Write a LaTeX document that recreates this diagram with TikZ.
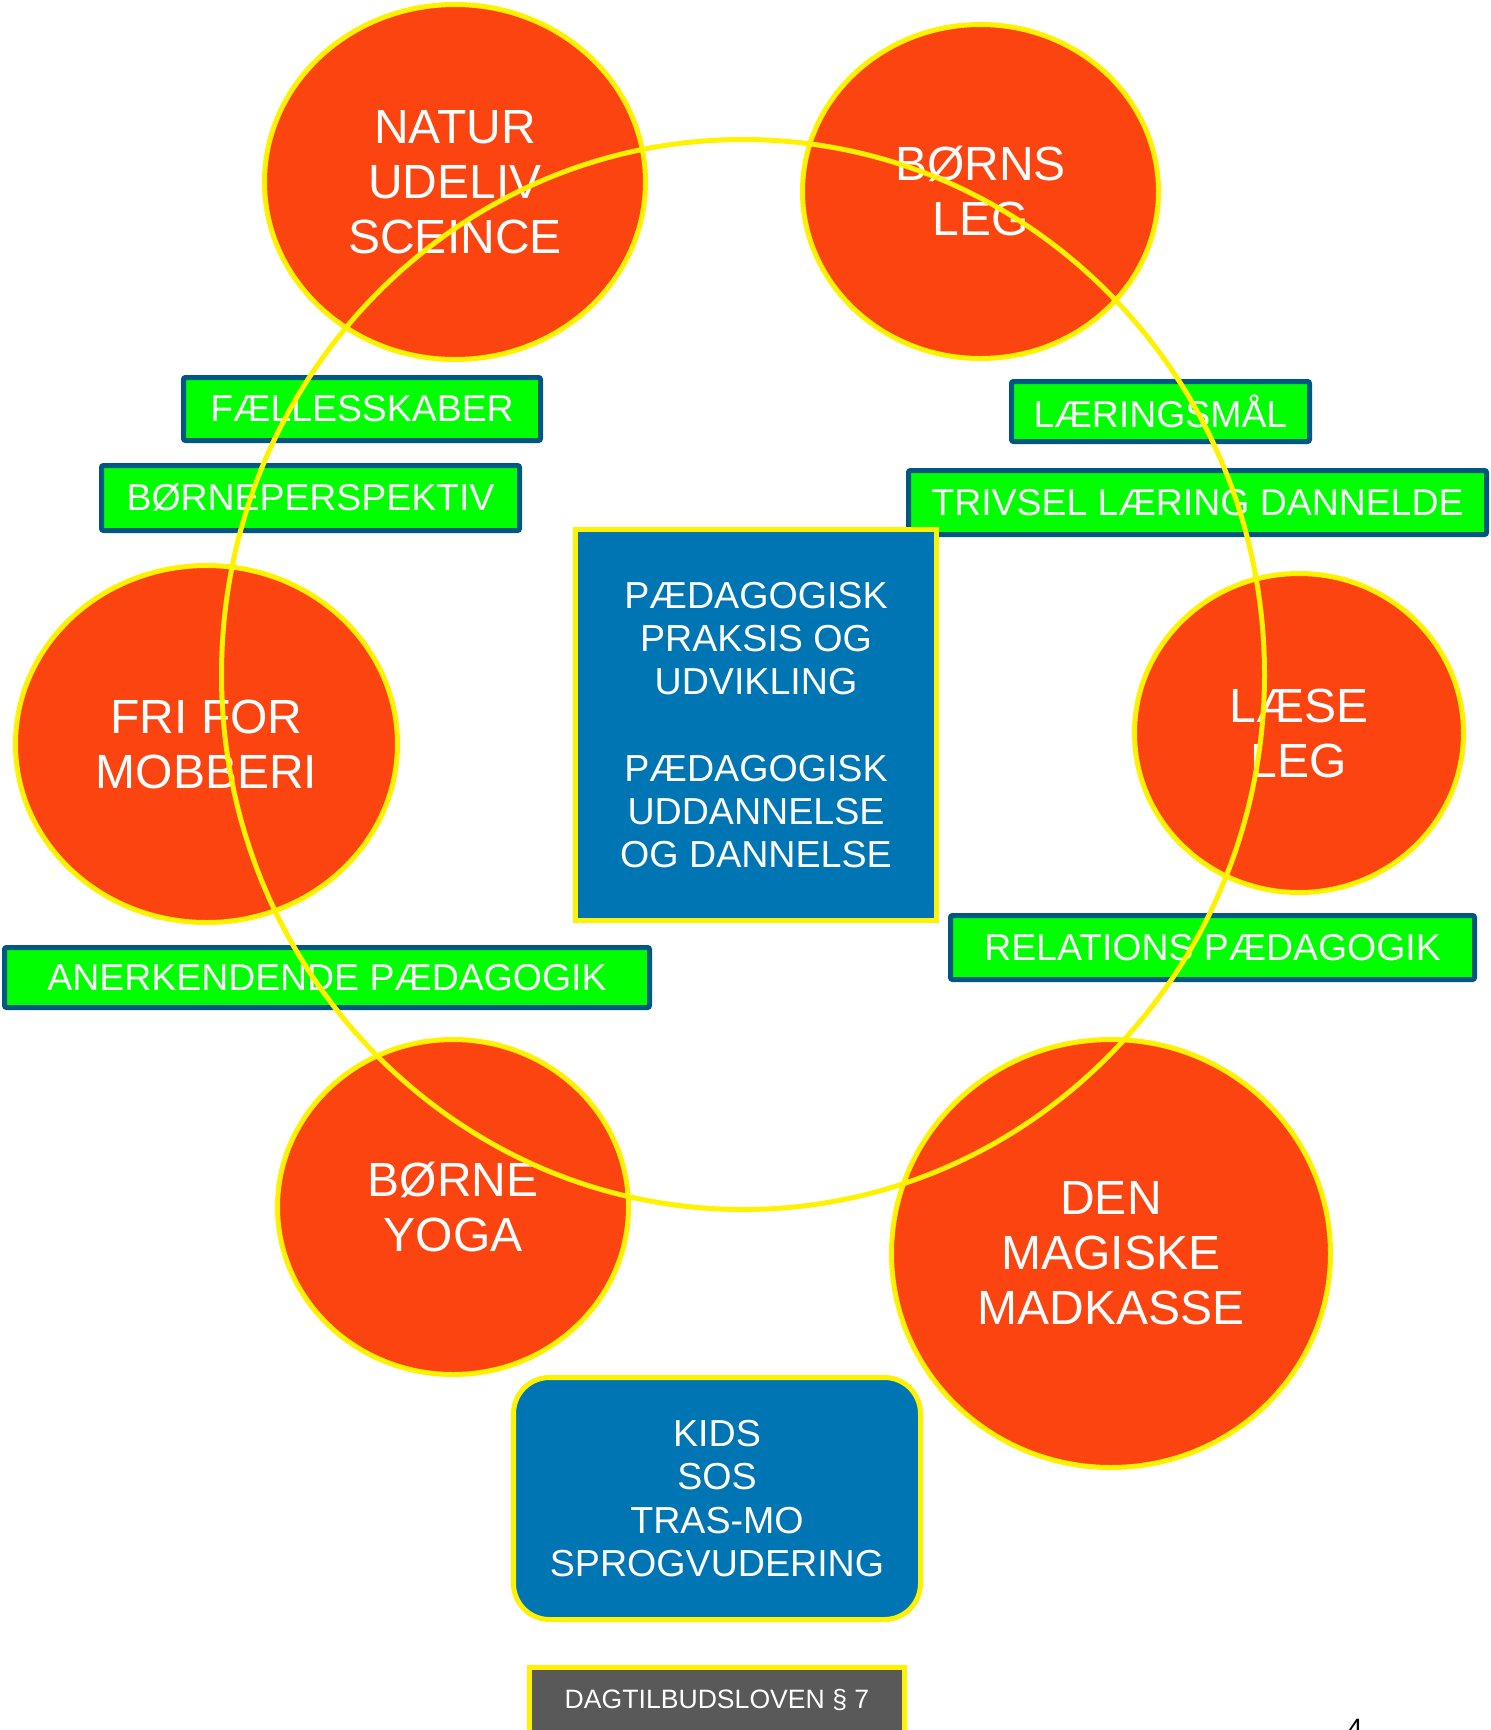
\documentclass[tikz,border=0pt]{standalone}
\usepackage{fontspec}
\setmainfont{Liberation Sans}
\usetikzlibrary{shapes.geometric}

\definecolor{circfill}{RGB}{252,68,16}
\definecolor{goalgreen}{RGB}{0,255,0}
\definecolor{goalborder}{RGB}{0,88,130}
\definecolor{hubblue}{RGB}{0,117,180}
\definecolor{lawgray}{RGB}{89,89,89}

\begin{document}
\begin{tikzpicture}[
        x=0.5pt, y=-0.5pt,
        topic/.style={ellipse, draw=yellow, line width=2.5pt, fill=circfill, text=white, align=center, inner sep=0pt, font=\fontsize{24}{27.5}\selectfont},
        goalbox/.style={rectangle, rounded corners=1pt, draw=goalborder, line width=2.5pt, fill=goalgreen, text=white, inner sep=0pt, font=\fontsize{18.7}{21}\selectfont},
        hubbox/.style={rectangle, draw=yellow, line width=2.5pt, fill=hubblue, text=white, align=center, inner sep=0pt, font=\fontsize{18.8}{21.6}\selectfont}
    ]
        \useasboundingbox (0,0) rectangle (1490,1730);

        % circles
        \node[topic, minimum width=190.5pt, minimum height=177.5pt] (natur) at (455,182) {NATUR\\UDELIV\\SCEINCE};
        \node[topic, minimum width=178pt, minimum height=167pt] (leg) at (980.5,191.5) {BØRNS\\LEG};
        \node[topic, minimum width=191pt, minimum height=178.5pt] (mobberi) at (206.5,744) {FRI FOR\\MOBBERI};
        \node[topic, minimum width=164.5pt, minimum height=159.5pt] (laese) at (1299,733) {LÆSE\\LEG};
        \node[topic, minimum width=175.5pt, minimum height=167.5pt] (yoga) at (453,1207) {BØRNE\\YOGA};
        \node[topic, minimum width=219.5pt, minimum height=214pt] (madkasse) at (1111,1253.5) {DEN\\MAGISKE\\MADKASSE};

        % green labels
        \node[goalbox, minimum width=178.5pt, minimum height=31.5pt] (faelles) at (362,409) {\raisebox{-1.5pt}{FÆLLESSKABER}};
        \node[goalbox, minimum width=209pt, minimum height=32.5pt] (perspektiv) at (310.5,498) {\raisebox{-1.5pt}{BØRNEPERSPEKTIV}};
        \node[goalbox, minimum width=149pt, minimum height=30pt] (maal) at (1160.5,411.5) {\raisebox{-1.5pt}{LÆRINGSMÅL}};
        \node[goalbox, minimum width=289pt, minimum height=32pt] (trivsel) at (1197.5,502.5) {\raisebox{-1.5pt}{TRIVSEL LÆRING DANNELDE}};
        \node[goalbox, minimum width=322.5pt, minimum height=30pt] (anerkend) at (327,977.5) {\raisebox{-1.5pt}{ANERKENDENDE PÆDAGOGIK}};
        \node[goalbox, minimum width=262pt, minimum height=32pt] (relation) at (1212.5,947.5) {\raisebox{-1.5pt}{RELATIONS PÆDAGOGIK}};

        % blue boxes
        \node[hubbox, minimum width=180.5pt, minimum height=195.5pt] (praksis) at (756,725) {PÆDAGOGISK\\PRAKSIS OG\\UDVIKLING\\[21.6pt]PÆDAGOGISK\\UDDANNELSE\\OG DANNELSE};
        \node[hubbox, rounded corners=18pt, minimum width=203.5pt, minimum height=121pt] (kids) at (717,1498.5) {KIDS\\SOS\\TRAS-MO\\SPROGVUDERING};
        \node[hubbox, fill=lawgray, font=\fontsize{13.3}{16}\selectfont, minimum width=187.5pt, minimum height=32.5pt] (lov) at (717,1700) {DAGTILBUDSLOVEN § 7};

        % ring on top
        \node[ellipse, draw=yellow, line width=2.5pt, minimum width=521.5pt, minimum height=535pt] (ring) at (743,674.5) {};

        \node[anchor=base, font=\fontsize{14}{16}\selectfont] (side) at (1355,1738) {4};
    \end{tikzpicture}
\end{document}
